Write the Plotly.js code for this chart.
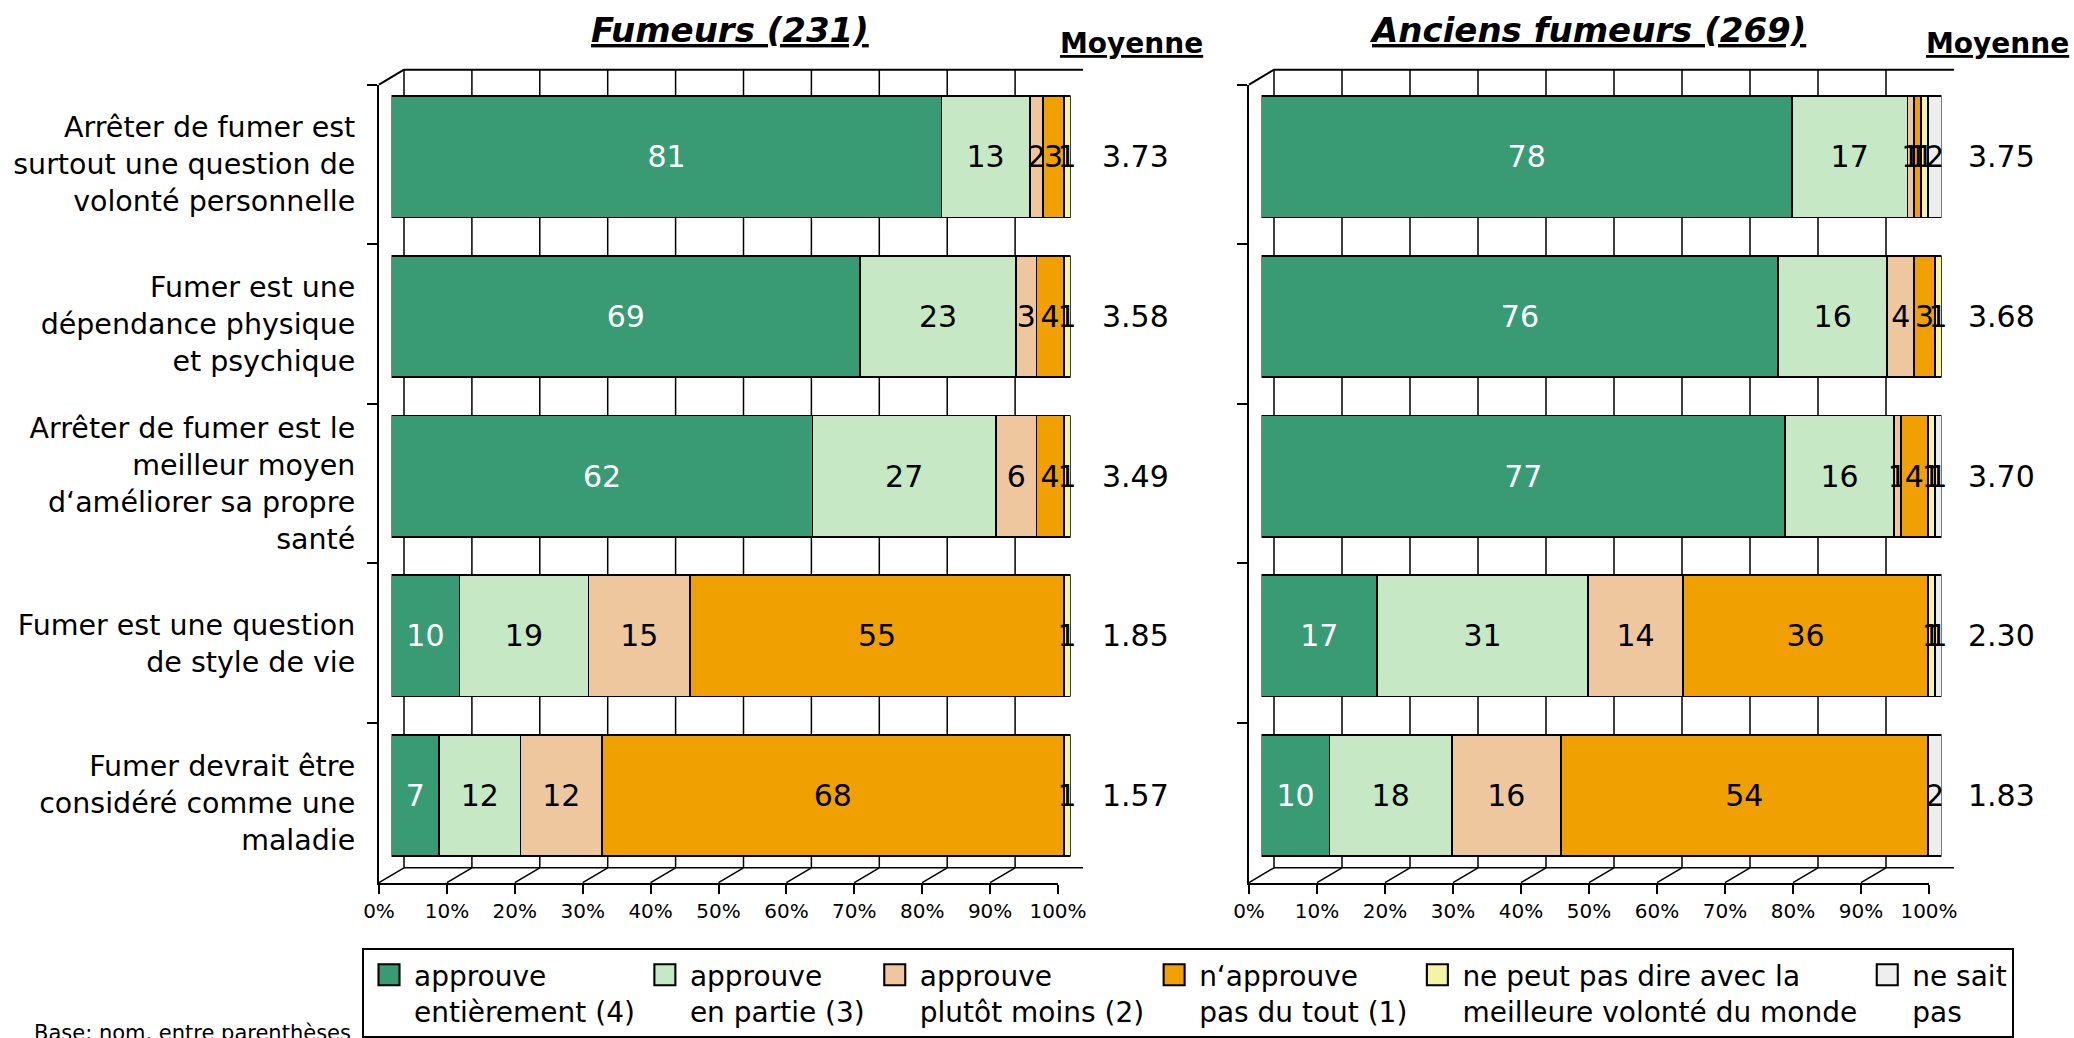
<!DOCTYPE html>
<html><head><meta charset="utf-8">
<script src="https://cdn.plot.ly/plotly-3.0.1.min.js"></script>
<style>html,body{margin:0;padding:0;background:#fff}#chart{width:2074px;height:1038px}</style>
</head><body><div id="chart"></div>
<script>
// ---------- data ----------
const categories = [
  "Arrêter de fumer est<br>surtout une question de<br>volonté personnelle",
  "Fumer est une<br>dépendance physique<br>et psychique",
  "Arrêter de fumer est le<br>meilleur moyen<br>d‘améliorer sa propre<br>santé",
  "Fumer est une question<br>de style de vie",
  "Fumer devrait être<br>considéré comme une<br>maladie"
];
const seriesNames = [
  "approuve<br>entièrement (4)",
  "approuve<br>en partie (3)",
  "approuve<br>plutôt moins (2)",
  "n‘approuve<br>pas du tout (1)",
  "ne peut pas dire avec la<br>meilleure volonté du monde",
  "ne sait<br>pas"
];
const panelTitles = ["Fumeurs (231)", "Anciens fumeurs (269)"];
const meanTitle = "Moyenne";
const xTickVals = [0,10,20,30,40,50,60,70,80,90,100];
const xTickText = ["0%","10%","20%","30%","40%","50%","60%","70%","80%","90%","100%"];

// Fumeurs (231)
const smokersEntierement = [81, 69, 62, 10, 7];
const smokersEnPartie    = [13, 23, 27, 19, 12];
const smokersPlutotMoins = [2, 3, 6, 15, 12];
const smokersPasDuTout   = [3, 4, 4, 55, 68];
const smokersNePeutPas   = [1, 1, 1, 1, 1];
const smokersNeSaitPas   = [0, 0, 0, 0, 0];
const smokersMeans       = ["3.73", "3.58", "3.49", "1.85", "1.57"];

// Anciens fumeurs (269)
const formerEntierement = [78, 76, 77, 17, 10];
const formerEnPartie    = [17, 16, 16, 31, 18];
const formerPlutotMoins = [1, 4, 1, 14, 16];
const formerPasDuTout   = [1, 3, 4, 36, 54];
const formerNePeutPas   = [1, 1, 1, 1, 0];
const formerNeSaitPas   = [2, 0, 1, 1, 2];
const formerMeans       = ["3.75", "3.68", "3.70", "2.30", "1.83"];

const footnote = "Base: nom. entre parenthèses";

// ---------- styling / geometry ----------
const FONT = "DejaVu Sans, Verdana, sans-serif";
const colors = ["#389B73", "#C6E8C4", "#EFC79E", "#F0A000", "#F4F4A6", "#EEEEEE"];
const textColors = ["#ffffff", "#000", "#000", "#000", "#000", "#000"];
const W = 2074, H = 1038;
const px = v => v / W;
const py = v => (H - v) / H;
const FT = 85, FB = 887, DX = 25, DY = -15;
const panels = [
  {front: [379, 1058], meanX: 1135, titleX: 730, moyX: 1131,
   series: [smokersEntierement, smokersEnPartie, smokersPlutotMoins, smokersPasDuTout, smokersNePeutPas, smokersNeSaitPas],
   means: smokersMeans},
  {front: [1249, 1929], meanX: 2001, titleX: 1587, moyX: 1997,
   series: [formerEntierement, formerEnPartie, formerPlutotMoins, formerPasDuTout, formerNePeutPas, formerNeSaitPas],
   means: formerMeans}
];

const data = [];
const layout = {
  width: W, height: H,
  margin: {l: 0, r: 0, t: 0, b: 0},
  paper_bgcolor: "#fff", plot_bgcolor: "rgba(0,0,0,0)",
  barmode: "stack", bargap: 0.24,
  font: {family: FONT, color: "#000"},
  showlegend: true,
  legend: {
    orientation: "h", x: px(362), y: py(953), xanchor: "left", yanchor: "top",
    bordercolor: "#000", borderwidth: 2, bgcolor: "#fff",
    font: {family: FONT, size: 28, color: "#000"},
    itemwidth: 40, valign: "top", traceorder: "normal", itemclick: false
  },
  shapes: [], annotations: []
};

panels.forEach((p, i) => {
  const bx = i === 0 ? "x" : "x2", by = i === 0 ? "y" : "y2";
  const fx = i === 0 ? "x3" : "x4", fy = i === 0 ? "y3" : "y4";
  const bxL = i === 0 ? "xaxis" : "xaxis2", byL = i === 0 ? "yaxis" : "yaxis2";
  const fxL = i === 0 ? "xaxis3" : "xaxis4", fyL = i === 0 ? "yaxis3" : "yaxis4";
  const [f0, f1] = p.front;

  // bar axes (mid depth)
  layout[bxL] = {domain: [px(f0 + DX/2), px(f1 + DX/2)], range: [0, 100], visible: false, anchor: by, fixedrange: true};
  layout[byL] = {domain: [py(FB + DY/2), py(FT + DY/2)], type: "category", categoryorder: "array",
                 categoryarray: categories, range: [4.5, -0.5], visible: false, anchor: bx, fixedrange: true};
  // front axes (ticks and labels)
  layout[fxL] = {domain: [px(f0), px(f1)], range: [0, 100], anchor: fy,
                 tickvals: xTickVals, ticktext: xTickText, showline: true, linecolor: "#000", linewidth: 2,
                 ticks: "outside", ticklen: 9, tickwidth: 2, tickcolor: "#000", showgrid: false, zeroline: false,
                 tickfont: {family: FONT, size: 20, color: "#000"}, fixedrange: true};
  layout[fyL] = {domain: [py(FB), py(FT)], type: "category", categoryorder: "array", categoryarray: categories,
                 range: [4.5, -0.5], anchor: fx, showline: true, linecolor: "#000", linewidth: 2,
                 ticks: "outside", tickson: "boundaries", ticklen: 10, tickwidth: 2, tickcolor: "#000",
                 showgrid: false, zeroline: false, showticklabels: i === 0, ticklabelstandoff: 16,
                 tickfont: {family: FONT, size: 28.5, color: "#000"}, fixedrange: true};

  // invisible trace so the front axes exist
  data.push({type: "scatter", mode: "markers", x: categories.map(() => 0), y: categories,
             xaxis: fx, yaxis: fy, marker: {opacity: 0}, showlegend: false, hoverinfo: "skip"});

  // bars
  p.series.forEach((vals, s) => {
    data.push({
      type: "bar", orientation: "h", name: seriesNames[s], x: vals, y: categories,
      xaxis: bx, yaxis: by, legendgroup: "s" + s, showlegend: i === 0,
      marker: {color: colors[s], line: {color: "#000", width: 1.8}},
      text: vals.map(v => v > 0 ? String(v) : ""), textposition: "inside",
      insidetextanchor: "middle", constraintext: "none", cliponaxis: false,
      textfont: {family: FONT, size: 30, color: textColors[s]},
      hoverinfo: "skip"
    });
  });

  // back wall grid lines and floor diagonals (anchored to the front axis values)
  xTickVals.forEach(v => {
    layout.shapes.push({type: "line", layer: "below", xref: fx, xsizemode: "pixel", xanchor: v, x0: DX, x1: DX,
      yref: "paper", y0: py(FT + DY), y1: py(FB + DY), line: {color: "#000", width: 1.5}});
    layout.shapes.push({type: "line", layer: "below", xref: fx, xsizemode: "pixel", xanchor: v, x0: 0, x1: DX,
      yref: "paper", y0: py(FB), y1: py(FB + DY), line: {color: "#000", width: 1.5}});
  });
  // back wall top edge, back floor edge, top-left diagonal
  layout.shapes.push({type: "line", layer: "below", xref: "paper", yref: "paper",
    x0: px(f0 + DX), x1: px(f1 + DX), y0: py(FT + DY), y1: py(FT + DY), line: {color: "#000", width: 2}});
  layout.shapes.push({type: "line", layer: "below", xref: "paper", yref: "paper",
    x0: px(f0 + DX), x1: px(f1 + DX), y0: py(FB + DY), y1: py(FB + DY), line: {color: "#000", width: 1.5}});
  layout.shapes.push({type: "line", layer: "below", xref: "paper", yref: "paper",
    x0: px(f0), x1: px(f0 + DX), y0: py(FT), y1: py(FT + DY), line: {color: "#000", width: 2}});

  // titles
  layout.annotations.push({text: panelTitles[i], xref: "paper", yref: "paper", x: px(p.titleX), y: py(30),
    xanchor: "center", yanchor: "middle", showarrow: false,
    font: {family: FONT, size: 34, weight: "bold", style: "italic", lineposition: "under", color: "#000"}});
  layout.annotations.push({text: meanTitle, xref: "paper", yref: "paper", x: px(p.moyX), y: py(44),
    xanchor: "center", yanchor: "middle", showarrow: false,
    font: {family: FONT, size: 28, weight: "bold", lineposition: "under", color: "#000"}});
  // means
  p.means.forEach((m, k) => {
    layout.annotations.push({text: m, xref: "paper", yref: by, x: px(p.meanX), y: categories[k],
      xanchor: "center", yanchor: "middle", showarrow: false,
      font: {family: FONT, size: 30, color: "#000"}});
  });
});

layout.annotations.push({text: footnote, xref: "paper", yref: "paper", x: px(353), y: py(1038),
  xanchor: "right", yanchor: "middle", showarrow: false, font: {family: FONT, size: 21, color: "#000"}});

Plotly.newPlot("chart", data, layout, {displayModeBar: false, staticPlot: true}).then(gd => {
  // enlarge the legend swatches to the size used in the reference
  gd.querySelectorAll(".legend .legendpoints path").forEach(p => {
    const t = p.getAttribute("transform") || "";
    p.setAttribute("transform", t + " scale(1.75)");
    p.style.strokeWidth = "1.2px";
  });
});
</script>
</body></html>
